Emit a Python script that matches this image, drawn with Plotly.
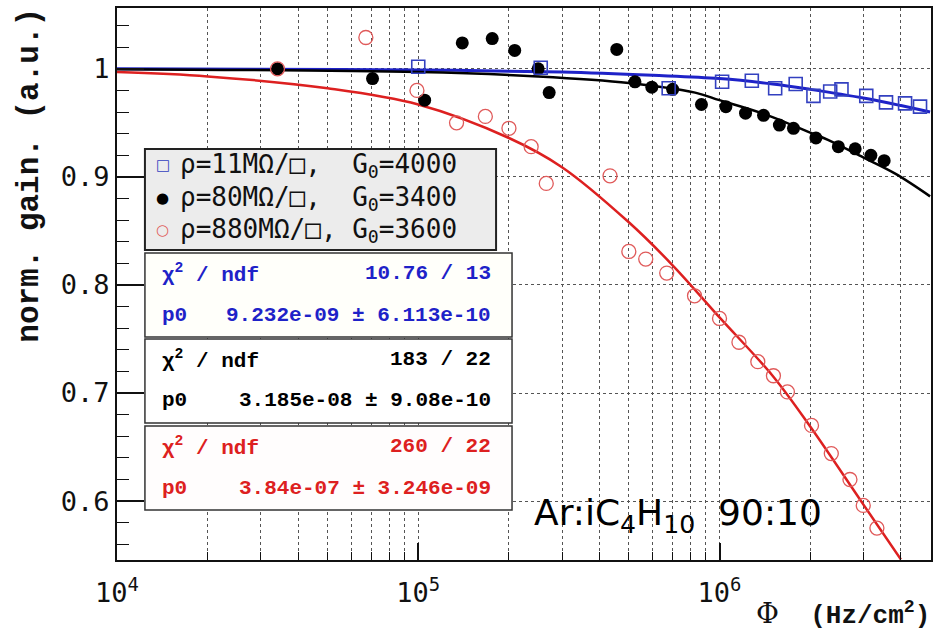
import plotly.graph_objects as go

# ---------------- data ----------------
blue_phi = [1.0e5, 2.55e5, 6.78e5, 1.02e6, 1.28e6, 1.53e6, 1.79e6, 2.05e6, 2.33e6,
            2.54e6, 3.07e6, 3.57e6, 4.13e6, 4.63e6]
blue_gain = [1.002, 1.001, 0.982, 0.988, 0.989, 0.982, 0.986, 0.975, 0.979,
             0.981, 0.975, 0.969, 0.968, 0.965]

black_phi = [3.41e4, 7.05e4, 1.05e5, 1.40e5, 1.76e5, 2.09e5, 2.50e5, 2.72e5, 4.56e5,
             5.24e5, 5.96e5, 6.99e5, 8.71e5, 1.05e6, 1.22e6, 1.40e6, 1.58e6, 1.76e6,
             2.09e6, 2.48e6, 2.82e6, 3.18e6, 3.52e6]
black_gain = [1.000, 0.991, 0.971, 1.024, 1.028, 1.017, 1.000, 0.978, 1.018,
              0.988, 0.983, 0.981, 0.967, 0.965, 0.959, 0.957, 0.948, 0.945,
              0.936, 0.928, 0.926, 0.920, 0.915]

red_phi = [3.41e4, 6.7e4, 9.9e4, 1.34e5, 1.67e5, 2.0e5, 2.37e5, 2.66e5, 4.33e5,
           5.0e5, 5.69e5, 6.68e5, 8.26e5, 1.0e6, 1.16e6, 1.34e6, 1.51e6, 1.68e6,
           2.02e6, 2.35e6, 2.71e6, 3.0e6, 3.33e6]
red_gain = [1.000, 1.029, 0.980, 0.950, 0.956, 0.945, 0.928, 0.894, 0.901,
            0.831, 0.824, 0.811, 0.790, 0.769, 0.747, 0.729, 0.716, 0.701,
            0.670, 0.644, 0.620, 0.596, 0.575]

# fitted curves
blue_fit_phi = [1e4, 3e4, 1e5, 3e5, 6e5, 1e6, 1.5e6, 2e6, 3e6, 4e6, 5e6]
blue_fit_gain = [1.000, 0.9997, 0.999, 0.997, 0.994, 0.991, 0.986, 0.981, 0.973, 0.966, 0.960]

black_fit_phi = [1e4, 1e5, 2.5e5, 5e5, 8.3e5, 1e6, 1.38e6, 2e6, 2.3e6, 3e6, 3.83e6, 5e6]
black_fit_gain = [0.9997, 0.997, 0.993, 0.987, 0.978, 0.971, 0.959, 0.941, 0.934, 0.918, 0.903, 0.882]

red_fit_phi = [1e4, 2e4, 5e4, 1e5, 2e5, 3e5, 5e5, 7e5, 1e6, 1.5e6, 2e6, 3e6, 4e6]
red_fit_gain = [0.997, 0.993, 0.982, 0.967, 0.936, 0.909, 0.858, 0.818, 0.770, 0.716, 0.669, 0.597, 0.546]

legend_labels = ["ρ=11MΩ/□,\u00a0\u00a0G<sub>0</sub>=4000",
                 "ρ=80MΩ/□,\u00a0\u00a0G<sub>0</sub>=3400",
                 "ρ=880MΩ/□,\u00a0G<sub>0</sub>=3600"]
legend_symbols = ["□", "●", "○"]
chi2_text = ["10.76 / 13", "183 / 22", "260 / 22"]
p0_text = ["9.232e-09 ± 6.113e-10", "3.185e-08 ± 9.08e-10", "3.84e-07 ± 3.246e-09"]

x_major = [1e4, 1e5, 1e6]
x_major_text = ["10<sup>4</sup>", "10<sup>5</sup>", "10<sup>6</sup>"]
x_minor = [m * d for d in (1e4, 1e5, 1e6) for m in range(2, 10) if m * d <= 5.1e6]
y_ticks = [0.6, 0.7, 0.8, 0.9, 1.0]
y_ticktext = ["0.6", "0.7", "0.8", "0.9", "1"]

BLUE = "#1e22c8"
BLUE_M = "#3340c0"
RED = "#dd2020"
RED_M = "#e05a5a"
BLACK = "#000000"
GRID = "#555555"

# ---------------- figure ----------------
fig = go.Figure()
fig.add_trace(go.Scatter(x=blue_fit_phi, y=blue_fit_gain, mode="lines",
                         line=dict(color=BLUE, width=3, shape="spline"), showlegend=False))
fig.add_trace(go.Scatter(x=black_fit_phi, y=black_fit_gain, mode="lines",
                         line=dict(color=BLACK, width=2.5, shape="spline"), showlegend=False))
fig.add_trace(go.Scatter(x=red_fit_phi, y=red_fit_gain, mode="lines",
                         line=dict(color=RED, width=2.5, shape="spline"), showlegend=False))
fig.add_trace(go.Scatter(x=black_phi, y=black_gain, mode="markers",
                         marker=dict(symbol="circle", size=13, color=BLACK), showlegend=False))
fig.add_trace(go.Scatter(x=red_phi, y=red_gain, mode="markers",
                         marker=dict(symbol="circle-open", size=14, color=RED_M,
                                     line=dict(width=1.3, color=RED_M)), showlegend=False))
fig.add_trace(go.Scatter(x=blue_phi, y=blue_gain, mode="markers",
                         marker=dict(symbol="square-open", size=13, color=BLUE_M,
                                     line=dict(width=1.6, color=BLUE_M)), showlegend=False))

# plot area geometry (pixels): x 117..933, y 8..560
W, H = 935, 631
L, R, T, B = 117, 933, 8, 560
def px(x):
    return (x - L) / (R - L)
def py(y):
    return (B - y) / (B - T)

shapes = []
annotations = []

# legend box
shapes.append(dict(type="rect", xref="paper", yref="paper", x0=px(145), x1=px(497),
                   y0=py(250), y1=py(149), fillcolor="#ececec",
                   line=dict(color="#222222", width=2), layer="above"))
row_y = [165, 198, 230]
sym_col = [BLUE_M, BLACK, RED_M]
for i in range(3):
    annotations.append(dict(x=px(163), y=py(row_y[i]), xref="paper", yref="paper",
                            text=legend_symbols[i], showarrow=False, xanchor="center",
                            yanchor="middle", font=dict(family="DejaVu Sans", size=15,
                                                         color=sym_col[i])))
    annotations.append(dict(x=px(178), y=py(row_y[i]), xref="paper", yref="paper",
                            text=legend_labels[i], showarrow=False, xanchor="left",
                            yanchor="middle", font=dict(family="DejaVu Sans Mono", size=26,
                                                         color="#111111")))

# statistics boxes
box_tb = [(253, 337), (339, 423), (426, 510)]
box_fill = ["#fffffa", "#ffffff", "#fffdfd"]
box_col = [BLUE, BLACK, RED]
for i in range(3):
    t, b = box_tb[i]
    shapes.append(dict(type="rect", xref="paper", yref="paper", x0=px(145), x1=px(513),
                       y0=py(b), y1=py(t), fillcolor=box_fill[i],
                       line=dict(color="#333333", width=1.5), layer="above"))
    r1 = t + 20
    r2 = t + 62
    stat_font = dict(family="Liberation Mono", size=21, color=box_col[i])
    annotations.append(dict(x=px(160), y=py(r1), xref="paper", yref="paper",
                            text="<b>χ<sup>2</sup> / ndf</b>", showarrow=False, xanchor="left",
                            yanchor="middle", font=stat_font))
    annotations.append(dict(x=px(494), y=py(r1), xref="paper", yref="paper",
                            text="<b>" + chi2_text[i] + "</b>", showarrow=False,
                            xanchor="right", yanchor="middle", font=stat_font))
    annotations.append(dict(x=px(160), y=py(r2), xref="paper", yref="paper",
                            text="<b>p0</b>", showarrow=False, xanchor="left",
                            yanchor="middle", font=stat_font))
    annotations.append(dict(x=px(494), y=py(r2), xref="paper", yref="paper",
                            text="<b>" + p0_text[i] + "</b>", showarrow=False,
                            xanchor="right", yanchor="middle", font=stat_font))

# gas label
annotations.append(dict(x=px(533), y=py(515), xref="paper", yref="paper",
                        text="Ar:iC<sub>4</sub>H<sub>10</sub>\u00a0\u00a090:10", showarrow=False,
                        xanchor="left", yanchor="middle",
                        font=dict(family="DejaVu Sans", size=36, color="#000000")))

# axis titles
annotations.append(dict(x=px(29), y=py(6), xref="paper", yref="paper",
                        text="<b>norm. gain. (a.u.)</b>", textangle=-90, showarrow=False,
                        xanchor="center", yanchor="top",
                        font=dict(family="Liberation Mono", size=31, color="#111111")))
annotations.append(dict(x=px(934), y=py(614), xref="paper", yref="paper",
                        text="<span style='font-family:DejaVu Serif;font-size:28px'>Φ</span>"
                             "\u00a0\u00a0<b>(Hz/cm<sup>2</sup>)</b>",
                        showarrow=False, xanchor="right", yanchor="middle",
                        font=dict(family="Liberation Mono", size=26, color="#111111")))

fig.update_layout(
    width=W, height=H,
    margin=dict(l=L, r=W - R, t=T, b=H - B),
    paper_bgcolor="white", plot_bgcolor="white",
    showlegend=False,
    shapes=shapes, annotations=annotations,
    xaxis=dict(type="log", range=[4, 6.702], tickmode="array", tickvals=x_major,
               ticktext=x_major_text, ticks="inside", ticklen=17, tickwidth=1.5,
               tickcolor="#111111", showline=True, linecolor="#111111", linewidth=2,
               mirror=True, showgrid=True, gridcolor=GRID, griddash="dot", gridwidth=1,
               zeroline=False, ticklabelstandoff=8,
               tickfont=dict(family="DejaVu Sans Mono", size=27, color="#111111"),
               minor=dict(tickmode="array", tickvals=x_minor, ticks="inside", ticklen=8,
                          tickwidth=1.2, tickcolor="#111111", showgrid=True,
                          gridcolor=GRID, griddash="dot", gridwidth=1)),
    yaxis=dict(range=[0.5455, 1.0563], tickmode="array", tickvals=y_ticks,
               ticktext=y_ticktext, ticks="inside", ticklen=27, tickwidth=1.5,
               tickcolor="#111111", showline=True, linecolor="#111111", linewidth=2,
               mirror=True, showgrid=True, gridcolor=GRID, griddash="dot", gridwidth=1,
               zeroline=False,
               tickfont=dict(family="DejaVu Sans Mono", size=27, color="#111111"),
               minor=dict(dtick=0.02, tick0=0, ticks="inside", ticklen=12, tickwidth=1.2,
                          tickcolor="#111111", showgrid=False)),
    yaxis2=dict(overlaying="y", anchor="x", side="left", range=[0.5455, 1.0563],
                dtick=0.004, tick0=0, ticks="inside", ticklen=4, tickwidth=1,
                tickcolor="#333333", showticklabels=False, showgrid=False,
                zeroline=False, showline=False),
)

fig.write_html("out.html")
